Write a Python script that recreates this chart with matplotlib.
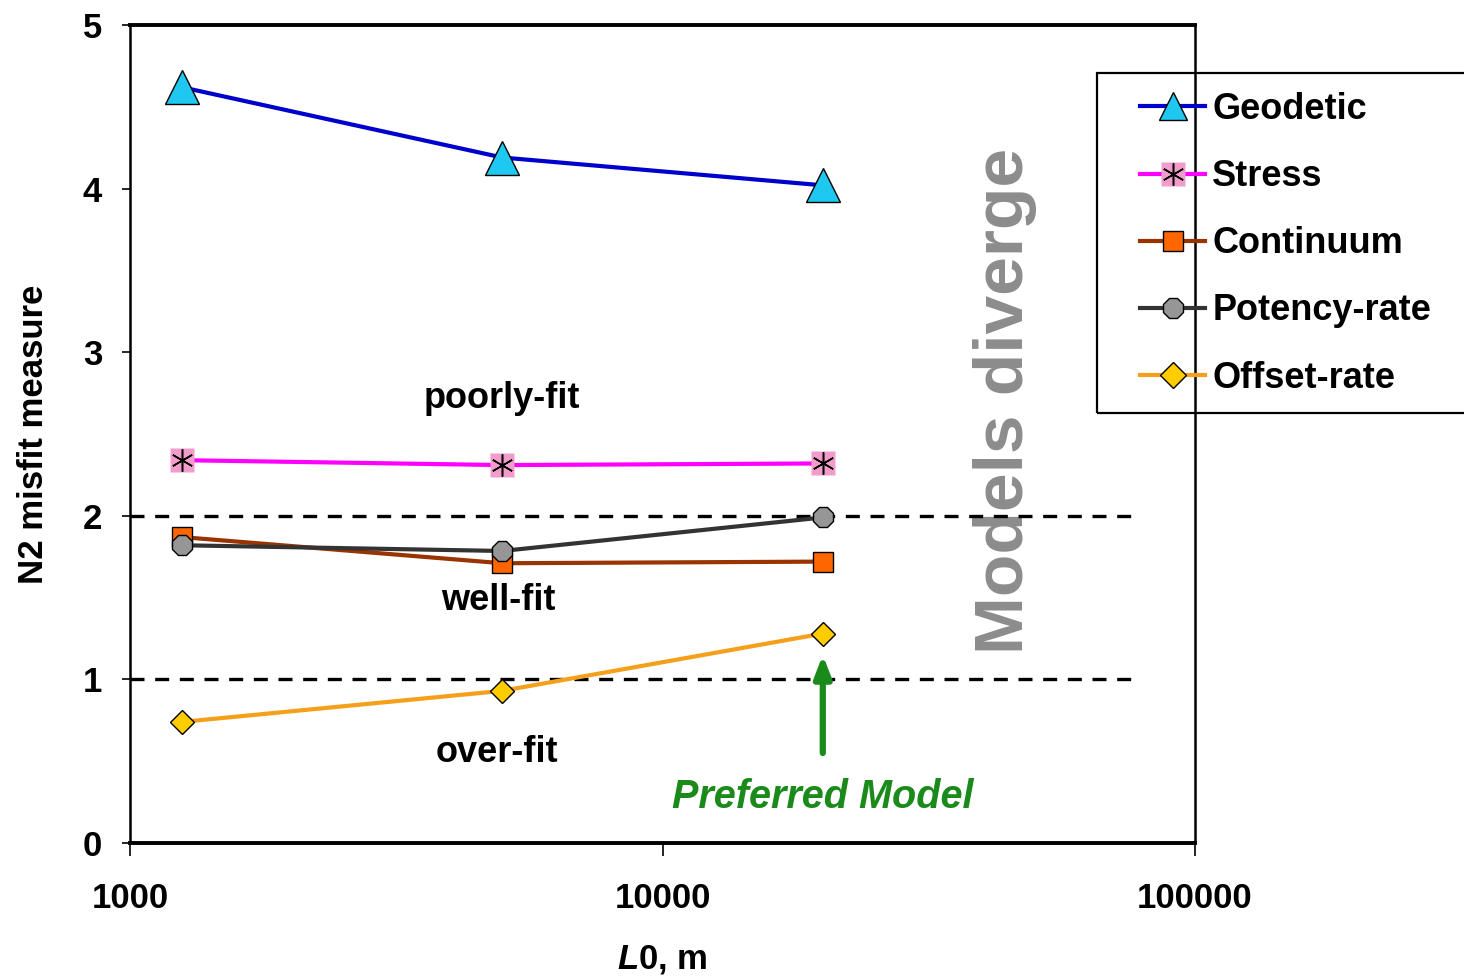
import matplotlib
matplotlib.use("Agg")
import matplotlib.pyplot as plt
from matplotlib.lines import Line2D
from matplotlib.patches import Rectangle

plt.rcParams['font.family'] = ['Liberation Sans', 'DejaVu Sans']
plt.rcParams['font.weight'] = 'bold'
plt.rcParams['mathtext.fontset'] = 'custom'
plt.rcParams['mathtext.it'] = 'Liberation Sans:italic:bold'
plt.rcParams['mathtext.rm'] = 'Liberation Sans:bold'

# Correlation length L0 (m) of each model run
L0 = [1250, 5000, 20000]

# N2 misfit of each dataset
geodetic = [4.62, 4.19, 4.02]
stress = [2.34, 2.31, 2.32]
continuum = [1.87, 1.71, 1.72]
potency_rate = [1.82, 1.785, 1.99]
offset_rate = [0.74, 0.93, 1.28]

# Fit-quality thresholds
thresholds = [2.0, 1.0]
threshold_xmax = 78000

x_ticks = [1000, 10000, 100000]
x_tick_labels = ['1000', '10000', '100000']
y_ticks = [0, 1, 2, 3, 4, 5]

W, H = 1464, 977
fig = plt.figure(figsize=(W / 100, H / 100), dpi=100)
ax = fig.add_axes([130 / W, 1 - 843 / H, (1195 - 130) / W, (843 - 25) / H])
ax.set_xscale('log')
ax.set_xlim(1000, 100000)
ax.set_ylim(0, 5)

for yv in thresholds:
    ax.plot([1000, threshold_xmax], [yv, yv], color='black', lw=2.4,
            dashes=(4.2, 3.2), zorder=2)

lw = 3.0
ax.plot(L0, geodetic, color='#0000cc', lw=lw, marker='^', ms=24,
        mfc='#1fc8f0', mec='black', mew=1.0, zorder=4)
ax.plot(L0, stress, color='#ff00ff', lw=lw, marker='s', ms=17,
        mfc='#f29ccc', mec='none', zorder=4)
ax.plot(L0, stress, ls='none', marker=(6, 2, 0), ms=16, mec='black',
        mew=1.1, zorder=5)
ax.plot(L0, continuum, color='#993300', lw=lw, marker='s', ms=14,
        mfc='#ff6600', mec='black', mew=1.0, zorder=4)
ax.plot(L0, potency_rate, color='#333333', lw=lw, marker='8', ms=16,
        mfc='#969696', mec='black', mew=1.0, zorder=4)
ax.plot(L0, offset_rate, color='#f5a01a', lw=lw, marker='D', ms=12,
        mfc='#ffcc00', mec='black', mew=1.0, zorder=4)

ax.set_xticks(x_ticks)
ax.set_xticklabels(x_tick_labels)
ax.xaxis.set_minor_locator(matplotlib.ticker.NullLocator())
ax.set_yticks(y_ticks)
ax.tick_params(axis='x', direction='out', length=9, width=1.2, pad=19,
               labelsize=25)
ax.tick_params(axis='y', direction='out', length=6, width=1.2, pad=14,
               labelsize=25)
for lab in ax.get_xticklabels() + ax.get_yticklabels():
    lab.set_fontweight('bold')

for side in ['top', 'bottom']:
    ax.spines[side].set_linewidth(2.8)
for side in ['left', 'right']:
    ax.spines[side].set_linewidth(1.8)

ax.set_ylabel('N2 misfit measure', fontsize=25, fontweight='bold', labelpad=24)
ax.set_xlabel('$\\mathit{L0}$, m', fontsize=25, fontweight='bold', labelpad=20)

ax.text(5000, 2.72, 'poorly-fit', fontsize=26, fontweight='bold',
        ha='center', va='center')
ax.text(4920, 1.485, 'well-fit', fontsize=26, fontweight='bold',
        ha='center', va='center')
ax.text(4890, 0.556, 'over-fit', fontsize=26, fontweight='bold',
        ha='center', va='center')

ax.text(44000, 2.70, 'Models diverge', fontsize=50, fontweight='bold',
        color='#8c8c8c', rotation=90, ha='center', va='center', zorder=1)

ax.annotate('', xy=(20000, 1.15), xytext=(20000, 0.55),
            arrowprops=dict(arrowstyle='-|>,head_width=0.5,head_length=1.3',
                            color='#1a8a1a', lw=4.5, shrinkA=0, shrinkB=0))
ax.text(20000, 0.28, 'Preferred Model', fontsize=28.5, fontweight='bold',
        fontstyle='italic', color='#1a8a1a', ha='center', va='center')

handles = [
    Line2D([], [], color='#0000cc', lw=lw, marker='^', ms=20, mfc='#1fc8f0',
           mec='black', mew=1.0),
    (Line2D([], [], color='#ff00ff', lw=lw, marker='s', ms=17, mfc='#f29ccc',
            mec='none'),
     Line2D([], [], ls='none', marker=(6, 2, 0), ms=16, mec='black', mew=1.1)),
    Line2D([], [], color='#993300', lw=lw, marker='s', ms=15, mfc='#ff6600',
           mec='black', mew=1.0),
    Line2D([], [], color='#333333', lw=lw, marker='8', ms=15, mfc='#969696',
           mec='black', mew=1.0),
    Line2D([], [], color='#f5a01a', lw=lw, marker='D', ms=13, mfc='#ffcc00',
           mec='black', mew=1.0),
]
labels = ['Geodetic', 'Stress', 'Continuum', 'Potency-rate', 'Offset-rate']
leg = fig.legend(handles, labels, loc='upper left',
                 bbox_to_anchor=(1140 / W, 1 - 92 / H),
                 frameon=False, prop={'size': 26, 'weight': 'bold'},
                 handlelength=1.8, handletextpad=0.2, labelspacing=0.89,
                 borderpad=0, borderaxespad=0)

# legend frame, running off the right edge of the figure
fig.patches.append(Rectangle((1097 / W, 1 - 413 / H), (W + 20 - 1097) / W,
                             (413 - 73) / H, transform=fig.transFigure,
                             fill=False, edgecolor='black', lw=1.6,
                             clip_on=False))

fig.savefig('out.png', dpi=100)
